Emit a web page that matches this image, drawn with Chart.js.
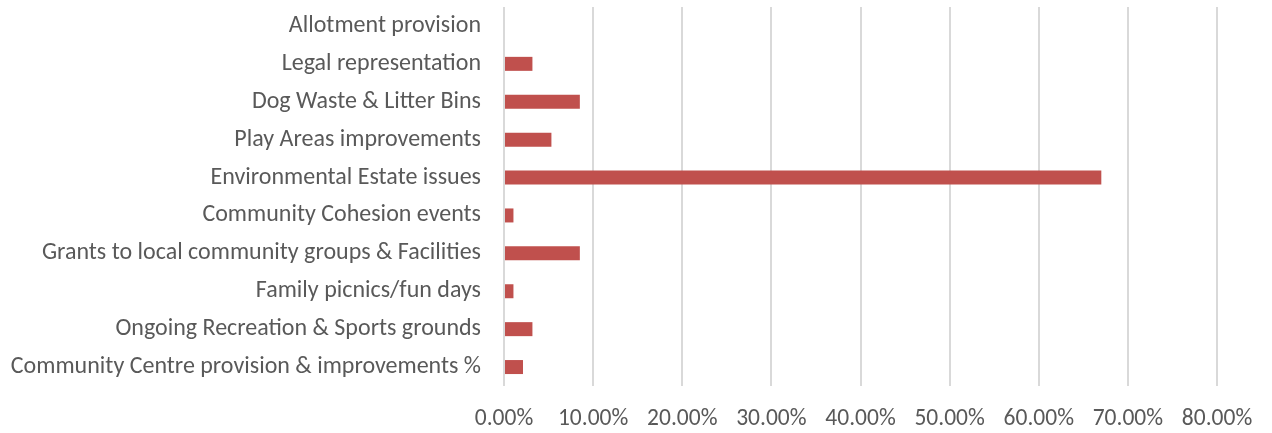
<!DOCTYPE html>
<html>
<head>
<meta charset="utf-8">
<script src="https://cdn.jsdelivr.net/npm/chart.js@4"></script>
<style>
html,body{margin:0;padding:0;background:#fff;}
#wrap{width:1272px;height:433px;position:relative;}
</style>
</head>
<body>
<div id="wrap"><canvas id="c" width="1272" height="433"></canvas></div>
<script>
const categories = [
  "Allotment provision",
  "Legal representation",
  "Dog Waste & Litter Bins",
  "Play Areas improvements",
  "Environmental Estate issues",
  "Community Cohesion events",
  "Grants to local community groups & Facilities",
  "Family picnics/fun days",
  "Ongoing Recreation & Sports grounds",
  "Community Centre provision & improvements %"
];
const percentValues = [0, 3.19, 8.51, 5.32, 67.02, 1.06, 8.51, 1.06, 3.19, 2.13];
const tickValues = [0, 10, 20, 30, 40, 50, 60, 70, 80];

const FONT = "Carlito, Lato, 'Liberation Sans', sans-serif";
const TEXT = "#595959";

new Chart(document.getElementById('c'), {
  type: 'bar',
  data: {
    labels: categories,
    datasets: [{
      data: percentValues,
      backgroundColor: '#c0504d',
      borderWidth: 0,
      inflateAmount: 0,
      barThickness: 14
    }]
  },
  options: {
    indexAxis: 'y',
    responsive: false,
    animation: false,
    events: [],
    layout: { padding: { top: 7, right: 55, left: 0, bottom: 0 } },
    plugins: { legend: { display: false }, tooltip: { enabled: false } },
    scales: {
      x: {
        min: 0, max: 80,
        afterBuildTicks: s => { s.ticks = tickValues.map(v => ({ value: v })); },
        afterFit: s => { s.height = 47; s.paddingLeft = 0; s.paddingRight = 0; },
        grid: { color: '#d9d9d9', lineWidth: 2, drawTicks: false },
        border: { display: false },
        ticks: {
          padding: 19,
          maxRotation: 0,
          color: TEXT,
          font: { family: FONT, size: 23.5 },
          callback: v => v.toFixed(2) + '%'
        }
      },
      y: {
        afterFit: s => { s.width = 504; s.paddingTop = 0; s.paddingBottom = 0; },
        grid: { display: false, drawTicks: false },
        border: { display: false },
        ticks: {
          padding: 23,
          color: TEXT,
          font: { family: FONT, size: 24 }
        }
      }
    }
  }
});
</script>
</body>
</html>
